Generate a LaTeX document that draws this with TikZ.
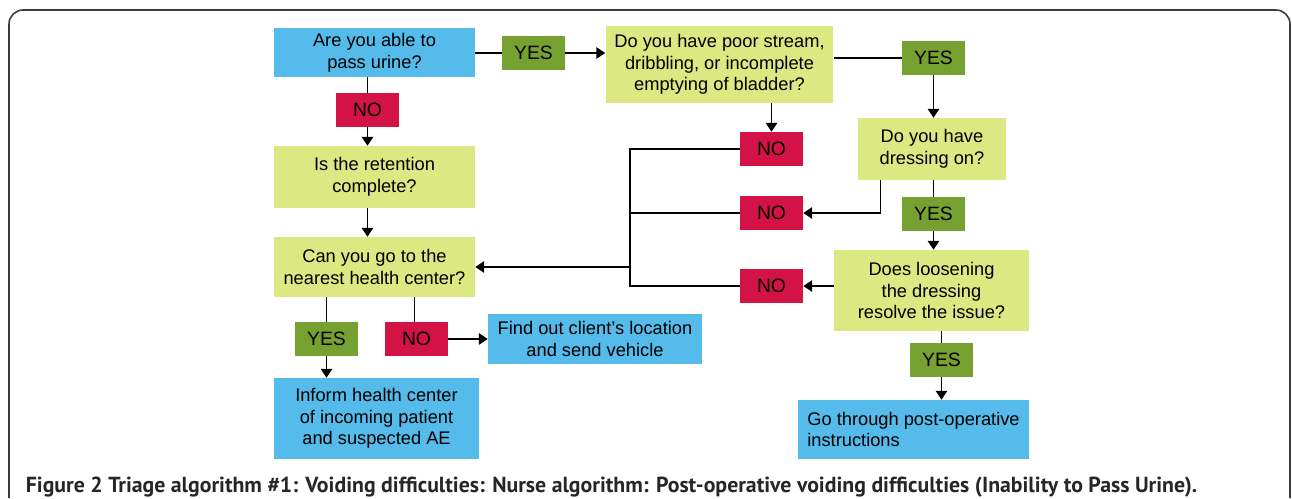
\documentclass[tikz,border=0pt]{standalone}
\usepackage{fontspec}
\setmainfont{Liberation Sans}
\newfontfamily\captionfont{PT Sans}
\usepackage{xcolor}
\usepackage{tikz}
\usetikzlibrary{positioning,arrows.meta,calc}
\definecolor{actionbg}{RGB}{84,187,234}
\definecolor{questionbg}{RGB}{220,232,130}
\definecolor{yesbg}{RGB}{118,161,48}
\definecolor{nobg}{RGB}{211,19,69}
\definecolor{framegray}{RGB}{60,60,60}

\begin{document}
\begin{tikzpicture}[x=0.02cm, y=-0.02cm,
    box/.style={align=center, inner sep=0pt, font=\fontsize{10.4}{12.3}\selectfont},
    question/.style={box, fill=questionbg},
    action/.style={box, fill=actionbg},
    yesbox/.style={box, fill=yesbg, minimum width=1.26cm, minimum height=0.68cm, font=\fontsize{11}{12}\selectfont},
    nobox/.style={box, fill=nobg, minimum width=1.26cm, minimum height=0.68cm, font=\fontsize{11}{12}\selectfont},
    link/.style={line width=0.7pt},
    arrow/.style={link, -{Triangle[width=6.5pt,length=5pt]}}]
    \useasboundingbox (0,0) rectangle (1292,498);

    % Frame
    \draw[framegray, line width=0.9pt, rounded corners=8pt] (9,498) -- (9,10) -- (1290,10) -- (1290,498);

    % Left column
    \node[action, minimum width=4.02cm, minimum height=0.98cm] (able) at (374.5, 52.5) {Are you able to\\pass urine?};
    \node[nobox] (no0) at (367.5, 110) {NO};
    \node[question, minimum width=4.02cm, minimum height=1.24cm] (complete) at (374.5, 177) {Is the retention\\complete?};
    \node[question, minimum width=4.02cm, minimum height=1.2cm] (center) at (374.5, 267) {Can you go to the\\nearest health center?};
    \node[yesbox] (yes5) at (326.5, 339) {YES};
    \node[nobox] (no5) at (416.5, 339) {NO};
    \node[action, minimum width=4.1cm, minimum height=1.62cm] (inform) at (376.5, 418.5) {Inform health center\\of incoming patient\\and suspected AE};
    \node[action, minimum width=4.28cm, minimum height=1.0cm] (vehicle) at (595, 339) {Find out client’s location\\and send vehicle};

    % Right column
    \node[yesbox] (yes1) at (533.5, 53) {YES};
    \node[question, minimum width=4.56cm, minimum height=1.54cm] (stream) at (719.5, 64.5) {Do you have poor stream,\\dribbling, or incomplete\\emptying of bladder?};
    \node[yesbox] (yes2) at (933.5, 58) {YES};
    \node[question, minimum width=2.96cm, minimum height=1.24cm] (dressing) at (932, 149) {Do you have\\dressing on?};
    \node[yesbox] (yes3) at (933.5, 214) {YES};
    \node[question, minimum width=3.9cm, minimum height=1.62cm] (loosen) at (931.5, 290.5) {Does loosening\\the dressing\\resolve the issue?};
    \node[yesbox] (yes4) at (941.5, 360) {YES};
    \node[action, minimum width=4.62cm, minimum height=1.18cm, align=left] (postop) at (913.5, 429.5) {Go through post-operative\\instructions};
    \node[nobox] (no1) at (771.5, 149) {NO};
    \node[nobox] (no2) at (771.5, 213) {NO};
    \node[nobox] (no3) at (771.5, 286) {NO};

    % Connectors
    \draw[link] (no0.north |- able.south) -- (no0.north);
    \draw[arrow] (no0.south) -- (no0.south |- complete.north);
    \draw[arrow] (no0.south |- complete.south) -- (no0.south |- center.north);
    \draw[link] (yes5.north |- center.south) -- (yes5.north);
    \draw[arrow] (yes5.south) -- (yes5.south |- inform.north);
    \draw[link] ([xshift=-0.04cm]no5.north |- center.south) -- ([xshift=-0.04cm]no5.north);
    \draw[arrow] (no5.east) -- (vehicle.west);

    \draw[link] (able.east |- yes1.west) -- (yes1.west);
    \draw[arrow] (yes1.east) -- (yes1.east -| stream.west);
    \draw[link] (yes2.west -| stream.east) -- (yes2.west);
    \draw[arrow] (yes2.south) -- (yes2.south |- dressing.north);
    \draw[link] (yes3.north |- dressing.south) -- (yes3.north);
    \draw[arrow] (yes3.south) -- (yes3.south |- loosen.north);
    \draw[link] (yes4.north |- loosen.south) -- (yes4.north);
    \draw[arrow] (yes4.south) -- (yes4.south |- postop.north);

    % NO branches back to the health center question
    \coordinate (bus) at (630, 267);
    \coordinate (dressingno) at ($(dressing.south west)+(0.46cm,0)$);
    \draw[arrow] (no1.north |- stream.south) -- (no1.north);
    \draw[arrow] (dressingno) |- (no2.east);
    \draw[arrow] (loosen.west |- no3.east) -- (no3.east);
    \draw[link] (no1.west) -- (no1.west -| bus) -- (no3.west -| bus) -- (no3.west);
    \draw[link] (no2.west) -- (no2.west -| bus);
    \draw[arrow] (bus) -- (bus -| center.east);

    % Caption
    \node[anchor=base west, inner sep=0pt, text=black!85, font=\captionfont\bfseries\fontsize{12.4}{14}\selectfont] (caption) at (25.5, 492)
        {Figure 2 Triage algorithm \#1: Voiding difficulties: Nurse algorithm: Post-operative voiding difficulties (Inability to Pass Urine).};
\end{tikzpicture}
\end{document}
